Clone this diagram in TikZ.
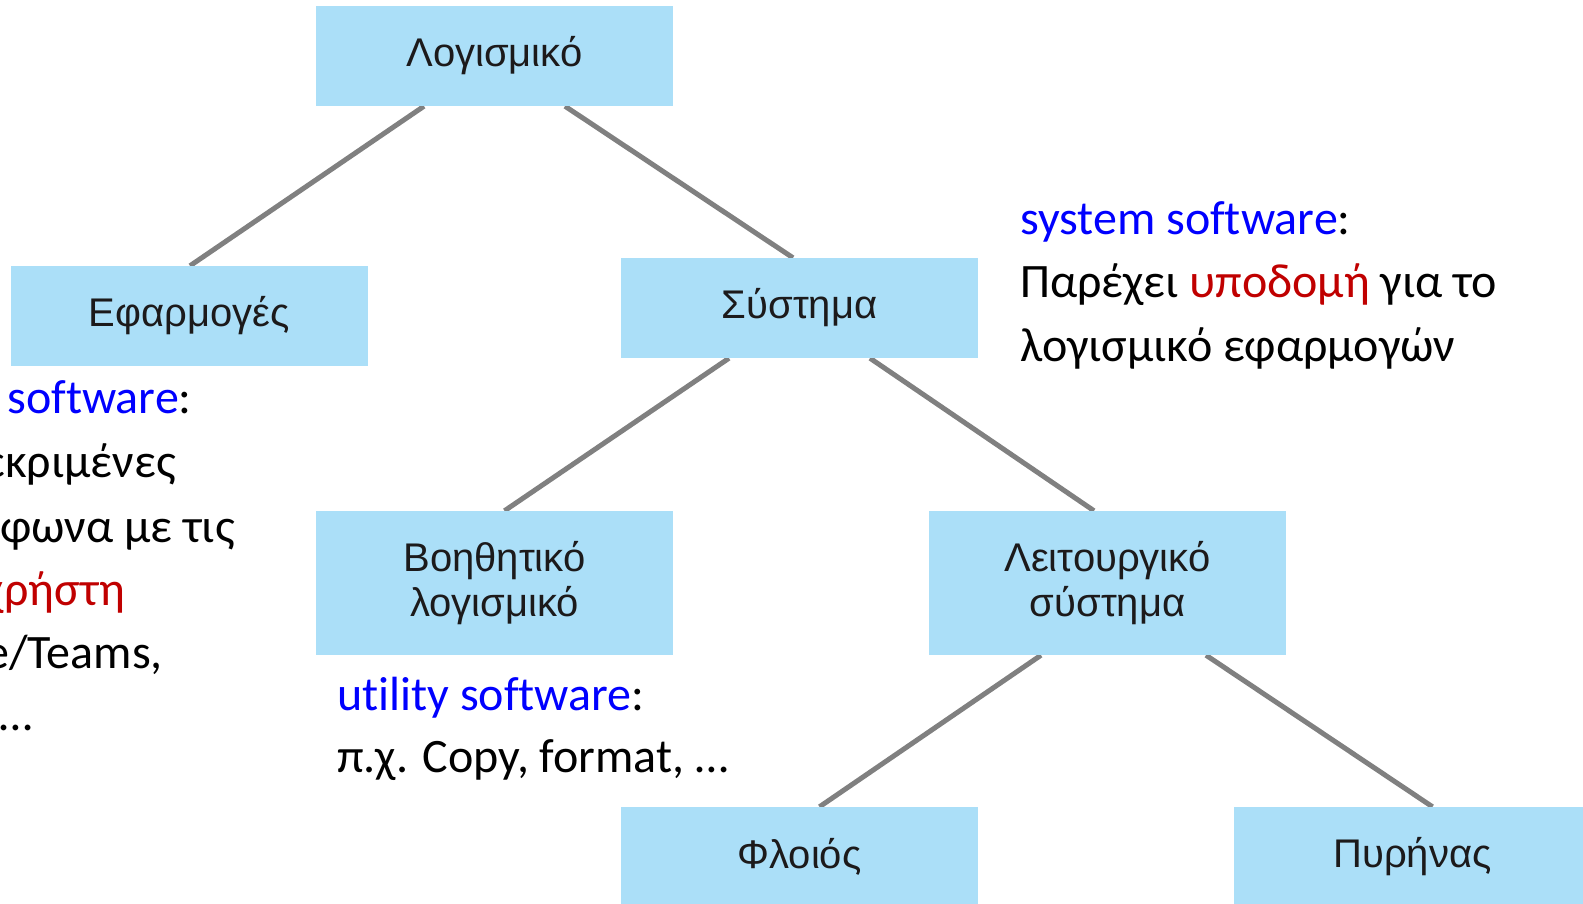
\documentclass[tikz,border=0pt]{standalone}
\usepackage{fontspec}
\setmainfont{Carlito}[Ligatures=NoCommon]
\newfontfamily\boxfont{Liberation Sans}
\usetikzlibrary{calc,backgrounds}
\definecolor{boxblue}{RGB}{171,223,248}
\definecolor{linegray}{RGB}{128,128,128}
\definecolor{boxtext}{RGB}{28,26,27}
\definecolor{kwblue}{RGB}{0,0,255}
\definecolor{kwred}{RGB}{192,0,0}
\begin{document}
\begin{tikzpicture}[x=1pt,y=-1pt,
 tbox/.style={fill=boxblue,minimum width=357pt,minimum height=100pt,inner sep=0pt,align=center,text=boxtext,font=\boxfont\fontsize{40}{45}\selectfont},
 tall/.style={minimum height=144pt},
 link/.style={draw=linegray,line width=5pt},
 note/.style={inner sep=0pt,font=\fontsize{48}{63}\selectfont}]
\useasboundingbox (0,0) rectangle (1583,904);
% boxes
\node[tbox] (log) at (494.5,56) {Λογισμικό};
\node[tbox] (efa) at (189,316) {Εφαρμογές};
\node[tbox] (sys) at (799.5,308) {Σύστημα};
\node[tbox,tall] (boi) at (494.5,583) {Βοηθητικό\\λογισμικό};
\node[tbox,tall] (lei) at (1107.5,583) {Λειτουργικό\\σύστημα};
\node[tbox] (flo) at (799.5,857) {Φλοιός};
\node[tbox] (pyr) at (1412.5,857) {Πυρήνας};
% connectors
\begin{scope}[on background layer]
\draw[link] ($(log.south)+(-70.5,0)$) -- ($(efa.north)+(1,0)$);
\draw[link] ($(log.south)+(70.5,0)$) -- ($(sys.north)+(-6.5,0)$);
\draw[link] ($(sys.south)+(-70.5,0)$) -- ($(boi.north)+(10,0)$);
\draw[link] ($(sys.south)+(70.5,0)$) -- ($(lei.north)+(-13.5,0)$);
\draw[link] ($(lei.south)+(-66.5,0)$) -- ($(flo.north)+(20,0)$);
\draw[link] ($(lei.south)+(98.5,0)$) -- ($(pyr.north)+(20,0)$);
\end{scope}
% system software note
\node[note,anchor=base west] (s1) at (1020,235) {\textcolor{kwblue}{system software}:};
\node[note,anchor=base west] (s2) at (1020,298) {Παρέχει \textcolor{kwred}{υποδομή} για το};
\node[note,anchor=base west] (s3) at (1020,361) {λογισμικό εφαρμογών};
% utility software note
\node[note,anchor=base west] (u1) at (337,710) {\textcolor{kwblue}{utility software}:};
\node[note,anchor=base west] (u2) at (337,772) {π.χ. Copy, format, …};
% application software note (cut at left edge, as in the reference)
\node[note,anchor=base east] (a1) at (192,413) {\textcolor{kwblue}{software}:};
\node[note,anchor=base east] (a2) at (176,477) {εκριμένες};
\node[note,anchor=base east] (a3) at (235,542) {φωνα με τις};
\node[note,anchor=base east] (a4) at (125,605) {\textcolor{kwred}{χρήστη}};
\node[note,anchor=base east] (a5) at (163,668) {e/Teams,};
\node[note,anchor=base east] (a6) at (33,730) {…};
\end{tikzpicture}
\end{document}
